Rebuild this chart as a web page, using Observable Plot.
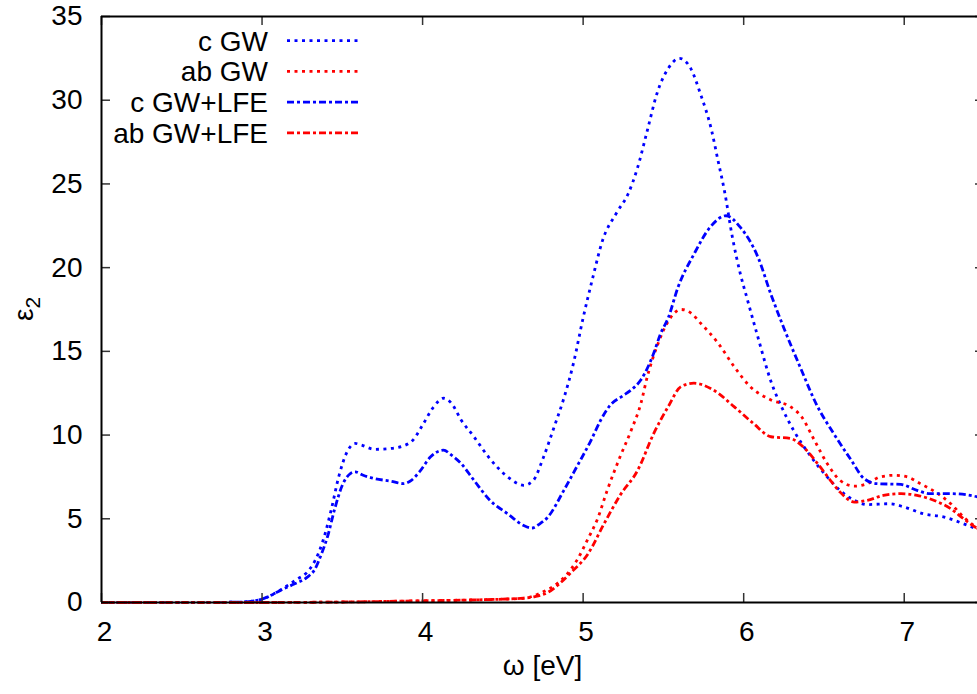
<!DOCTYPE html>
<html><head><meta charset="utf-8">
<script src="https://cdn.jsdelivr.net/npm/d3@7"></script>
<script src="https://cdn.jsdelivr.net/npm/@observablehq/plot@0.6"></script>
<style>body{margin:0;background:#fff} svg{display:block}</style>
</head><body><div id="chart"></div>
<script>
// ---- data ----
const seriesNames = ["c GW", "ab GW", "c GW+LFE", "ab GW+LFE"];

const omegaCGW = [2.0,2.5,2.85,2.95,3.0,3.07,3.14,3.22,3.28,3.33,3.38,3.43,3.48,3.53,3.58,3.62,3.70,3.80,3.88,3.94,4.00,4.07,4.13,4.18,4.24,4.32,4.41,4.53,4.63,4.69,4.75,4.82,4.88,4.94,5.00,5.06,5.12,5.21,5.28,5.34,5.40,5.46,5.53,5.60,5.67,5.73,5.80,5.84,5.88,5.93,5.98,6.02,6.09,6.17,6.24,6.31,6.42,6.52,6.60,6.69,6.77,6.91,7.00,7.12,7.25,7.37,7.45,7.5];
const eps2CGW  = [0,0,0.02,0.1,0.2,0.5,0.9,1.4,1.8,2.5,3.7,5.5,7.6,9.0,9.5,9.4,9.15,9.2,9.35,9.7,10.6,11.7,12.2,11.9,10.9,9.9,8.7,7.5,7.0,7.3,8.6,10.5,12.2,14.3,17.0,19.4,21.6,23.3,24.4,26.0,28.2,30.4,31.9,32.5,31.9,30.4,28.2,26.4,24.6,21.8,19.6,18.2,15.8,13.2,11.6,10.3,8.7,7.5,6.7,6.1,5.85,5.9,5.7,5.3,5.1,4.7,4.4,4.2];

const omegaABGW = [2.0,3.0,3.5,4.0,4.3,4.5,4.63,4.73,4.84,4.90,4.96,5.03,5.09,5.15,5.23,5.30,5.36,5.40,5.46,5.53,5.61,5.67,5.73,5.84,5.94,6.04,6.17,6.29,6.36,6.44,6.52,6.60,6.69,6.77,6.85,6.94,7.02,7.10,7.21,7.29,7.37,7.46,7.5];
const eps2ABGW  = [0,0,0.03,0.1,0.15,0.2,0.25,0.55,1.15,1.7,2.5,3.8,5.0,6.7,8.7,10.3,11.9,13.5,15.3,16.8,17.5,17.3,16.7,15.5,14.1,12.9,12.1,11.7,11.1,9.7,8.3,7.3,6.95,7.1,7.5,7.6,7.5,7.1,6.5,5.9,5.1,4.4,4.1];

const omegaCLFE = [2.0,2.5,2.85,2.95,3.0,3.06,3.12,3.20,3.28,3.33,3.37,3.41,3.45,3.50,3.55,3.58,3.63,3.70,3.80,3.88,3.93,3.98,4.05,4.13,4.18,4.24,4.32,4.42,4.53,4.63,4.68,4.73,4.78,4.88,4.96,5.05,5.11,5.17,5.24,5.30,5.36,5.44,5.48,5.53,5.59,5.69,5.79,5.89,5.98,6.09,6.17,6.25,6.35,6.46,6.56,6.67,6.75,6.83,6.98,7.08,7.16,7.29,7.46,7.5];
const eps2CLFE  = [0,0,0.02,0.1,0.2,0.45,0.75,1.1,1.5,2.0,2.9,4.0,5.5,7.0,7.7,7.8,7.6,7.4,7.25,7.1,7.3,7.8,8.7,9.1,8.8,8.3,7.3,6.1,5.3,4.6,4.45,4.7,5.1,6.7,8.1,9.7,10.9,11.8,12.3,12.7,13.3,14.9,16.0,17.0,18.8,20.8,22.4,23.1,22.4,20.6,18.4,16.4,14.1,11.7,10.1,8.5,7.4,7.1,7.05,6.7,6.5,6.5,6.3,6.2];

const omegaABLFE = [2.0,3.0,3.5,4.0,4.3,4.5,4.61,4.70,4.78,4.85,4.92,5.03,5.13,5.23,5.34,5.44,5.53,5.61,5.69,5.81,5.94,6.06,6.17,6.29,6.37,6.46,6.54,6.60,6.69,6.77,6.87,6.98,7.08,7.21,7.29,7.37,7.46,7.5];
const eps2ABLFE  = [0,0,0.03,0.1,0.15,0.2,0.25,0.35,0.6,1.1,1.75,2.9,4.7,6.4,7.9,10.1,11.7,12.9,13.1,12.7,11.7,10.7,9.9,9.8,9.3,8.3,7.3,6.6,6.0,6.1,6.4,6.5,6.4,6.0,5.6,5.0,4.4,4.2];

const xTicks = [2, 3, 4, 5, 6, 7];
const yTicks = [0, 5, 10, 15, 20, 25, 30, 35];
const xLabel = "ω [eV]";
const yLabelMain = "ε";
const yLabelSub = "2";

// ---- build tables ----
const toRows = (xs, ys, name) => xs.map((x, i) => ({omega: x, eps2: ys[i], series: name}));
const tables = [
  toRows(omegaCGW, eps2CGW, seriesNames[0]),
  toRows(omegaABGW, eps2ABGW, seriesNames[1]),
  toRows(omegaCLFE, eps2CLFE, seriesNames[2]),
  toRows(omegaABLFE, eps2ABLFE, seriesNames[3])
];

const BLUE = "#0000ff", RED = "#ff0000";
const DOT = "3,4.5", DASHDOT = "7,3,3,3";
const lineStyles = [
  {stroke: BLUE, dash: DOT},
  {stroke: RED, dash: DOT},
  {stroke: BLUE, dash: DASHDOT},
  {stroke: RED, dash: DASHDOT}
];

const W = 977, H = 694, mL = 101, mT = 16, mB = 92;
const frameW = W - mL, frameH = H - mT - mB;
const TICK = 9;
const FONT = "'Liberation Sans', Arial, Helvetica, sans-serif";
const FS = 28;
const LW = 2.8;

const plot = Plot.plot({
  width: W, height: H,
  marginLeft: mL, marginRight: 0, marginTop: mT, marginBottom: mB,
  style: {fontFamily: FONT, fontSize: FS + "px", background: "white", color: "black", overflow: "hidden"},
  x: {domain: [2, 7.5], range: [mL, 984]},
  y: {domain: [0, 35]},
  marks: [
    // curves
    ...tables.map((rows, i) => Plot.line(rows, {
      x: "omega", y: "eps2", curve: "monotone-x",
      stroke: lineStyles[i].stroke, strokeWidth: LW,
      strokeDasharray: lineStyles[i].dash, strokeLinecap: "butt"
    })),
    // inward ticks on four sides
    Plot.tickX(xTicks, {x: d => d, insetTop: frameH - TICK, stroke: "#333", strokeWidth: 1.5}),
    Plot.tickX(xTicks, {x: d => d, insetBottom: frameH - TICK, stroke: "#333", strokeWidth: 1.5}),
    Plot.tickY(yTicks, {y: d => d, insetRight: frameW - TICK, stroke: "#333", strokeWidth: 1.5}),
    Plot.tickY(yTicks, {y: d => d, insetLeft: frameW - 2, stroke: "#333", strokeWidth: 1.5}),
    // frame
    Plot.ruleY([0, 35], {stroke: "black", strokeWidth: 2}),
    Plot.ruleX([2], {stroke: "black", strokeWidth: 2}),
    // tick labels
    Plot.axisX(xTicks, {tickSize: 0, tickPadding: 19, dx: 3, fontSize: FS, label: null, stroke: null, tickFormat: d3.format("d")}),
    Plot.axisY(yTicks, {tickSize: 0, tickPadding: 19, fontSize: FS, label: null, stroke: null, tickFormat: d3.format("d")}),
    // x axis title
    Plot.text([xLabel], {frameAnchor: "bottom", dx: 3, dy: 72, fontSize: FS, fill: "black"})
  ]
});

const svg = d3.select(plot);

// ---- y axis title with a real subscript ----
const yl = svg.append("text")
  .attr("transform", `translate(${mL - 78},${mT + frameH / 2}) rotate(-90)`)
  .attr("text-anchor", "middle").attr("dy", "0.35em")
  .attr("font-family", FONT).attr("font-size", FS).attr("fill", "black");
yl.append("tspan").text(yLabelMain);
yl.append("tspan").attr("font-size", 21).attr("dy", 7).text(yLabelSub);

// ---- legend (key) inside the top-left of the frame ----
const key = svg.append("g").attr("font-family", FONT).attr("font-size", FS);
seriesNames.forEach((name, i) => {
  const cy = 40.7 + i * 30.7;
  key.append("text").attr("x", 268).attr("y", cy).attr("dy", "0.35em")
    .attr("text-anchor", "end").attr("fill", "black").text(name);
  key.append("line").attr("x1", 287).attr("x2", 361).attr("y1", cy).attr("y2", cy)
    .attr("stroke", lineStyles[i].stroke).attr("stroke-width", LW)
    .attr("stroke-dasharray", lineStyles[i].dash);
});

document.getElementById("chart").appendChild(plot);
</script>
</body></html>
